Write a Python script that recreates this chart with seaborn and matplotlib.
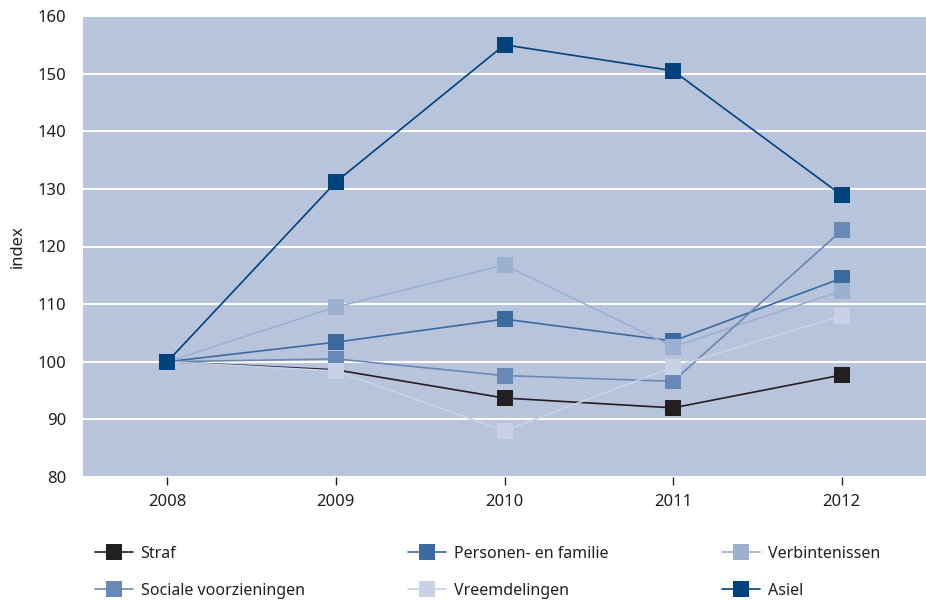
import matplotlib
matplotlib.use("Agg")
import matplotlib.pyplot as plt
from matplotlib.lines import Line2D
import pandas as pd
import seaborn as sns

years = [2008, 2009, 2010, 2011, 2012]

series_names = [
    "Straf",
    "Personen- en familie",
    "Verbintenissen",
    "Sociale voorzieningen",
    "Vreemdelingen",
    "Asiel",
]

straf = [100, 98.6, 93.7, 92.0, 97.7]
personen_familie = [100, 103.4, 107.4, 103.6, 114.5]
verbintenissen = [100, 109.5, 116.8, 102.6, 112.3]
sociale_voorzieningen = [100, 100.5, 97.6, 96.6, 122.8]
vreemdelingen = [100, 98.4, 88.0, 99.1, 108.0]
asiel = [100, 131.2, 155.0, 150.5, 128.9]

colors = ["#231f20", "#3b6a9f", "#9cb0d1", "#6888b5", "#c8d1e5", "#00427c"]

y_ticks = [80, 90, 100, 110, 120, 130, 140, 150, 160]

values = [straf, personen_familie, verbintenissen,
          sociale_voorzieningen, vreemdelingen, asiel]

df = pd.DataFrame(
    [(name, yr, v) for name, vals in zip(series_names, values)
     for yr, v in zip(years, vals)],
    columns=["categorie", "jaar", "index"],
)

sns.set_theme(style="white")
plt.rcParams["font.family"] = ["Noto Sans", "DejaVu Sans"]

fig = plt.figure(figsize=(9.26, 6.0), dpi=100)
ax = fig.add_axes([83 / 926, 1 - 477 / 600, 1 - 83 / 926, (477 - 16) / 600])
ax.set_facecolor("#b8c4dc")

palette = dict(zip(series_names, colors))
sns.lineplot(
    data=df, x="jaar", y="index", hue="categorie", hue_order=series_names,
    palette=palette, marker="s", markersize=11.5, markeredgewidth=0,
    linewidth=1.2, legend=False, ax=ax,
)

ax.set_xlim(2007.5, 2012.5)
ax.set_ylim(80, 160)
ax.set_xticks(years)
ax.set_xticklabels([str(y) for y in years])
ax.set_yticks(y_ticks)
ax.grid(axis="y", color="white", linewidth=1.5)
ax.set_axisbelow(True)
for s in ax.spines.values():
    s.set_visible(False)
ax.tick_params(axis="x", bottom=True, length=6, width=1, color="#231f20",
               labelsize=12, labelcolor="#231f20", pad=6)
ax.tick_params(axis="y", left=False, labelsize=12, labelcolor="#231f20", pad=6)
ax.set_xlabel("")
ax.set_ylabel("index", fontsize=12, color="#231f20")
ax.yaxis.set_label_coords(-0.068, 0.5)

# legend: three columns, two rows, placed below the plot area
columns = [(0, 3), (1, 4), (2, 5)]
col_x = [95 / 926, 408 / 926, 722 / 926]
for (a, b), x in zip(columns, col_x):
    handles = [
        Line2D([], [], color=colors[i], marker="s", markersize=11.5,
               markeredgewidth=0, linewidth=1.2, label=series_names[i])
        for i in (a, b)
    ]
    fig.legend(
        handles=handles, loc="upper left", bbox_to_anchor=(x, 1 - 546 / 600),
        frameon=False, fontsize=11.5, handlelength=2.35, handletextpad=0.5,
        labelspacing=1.3, borderaxespad=0, borderpad=0,
        labelcolor="#231f20",
    )

fig.savefig("out.png", dpi=100)
